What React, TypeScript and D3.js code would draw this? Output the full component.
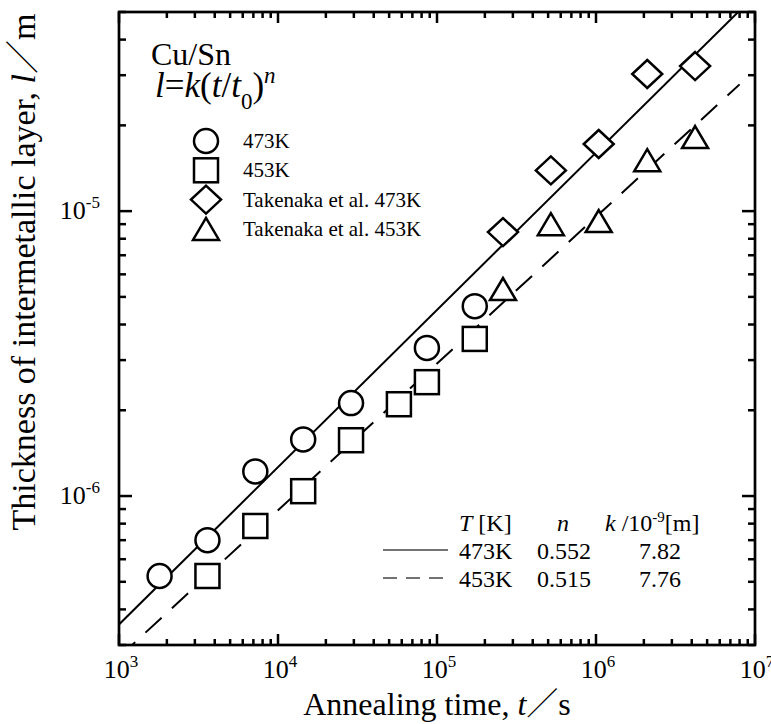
import React from 'react';
import * as d3 from 'd3';

// measured thickness (m) vs annealing time (s)
const times473 = [1800, 3600, 7200, 14400, 28800, 86400, 172800];
const thick473 = [5.24e-7, 7.0e-7, 1.22e-6, 1.58e-6, 2.12e-6, 3.31e-6, 4.64e-6];

const times453 = [3600, 7200, 14400, 28800, 57600, 86400, 172800];
const thick453 = [5.24e-7, 7.85e-7, 1.04e-6, 1.57e-6, 2.1e-6, 2.51e-6, 3.56e-6];

const takTimes = [2.6e5, 5.2e5, 1.04e6, 2.1e6, 4.2e6];
const tak473 = [8.44e-6, 1.39e-5, 1.72e-5, 3.03e-5, 3.23e-5];
const tak453 = [5.33e-6, 9.0e-6, 9.23e-6, 1.51e-5, 1.82e-5];

// fit  l = k (t/t0)^n
const fitTemps = ['473K', '453K'];
const fitN = [0.552, 0.515];
const fitK = [7.82, 7.76]; // x1e-9 m
const fitRange = [1e3, 8e6];

const legendLabels = ['473K', '453K', 'Takenaka et al. 473K', 'Takenaka et al. 453K'];

const W = 771, H = 724;
const m = { left: 119, right: 755, top: 12, bottom: 645 };
const serif = 'Liberation Serif, Times New Roman, DejaVu Serif, serif';
const cjk = 'Noto Sans CJK JP, sans-serif';

const Marker = ({ kind, x, y }) => {
    const sw = 2.5;
    if (kind === 'circle')
        return <circle cx={x} cy={y} r={12} fill="white" stroke="black" strokeWidth={sw} />;
    if (kind === 'square')
        return <rect x={x - 12} y={y - 12} width={24} height={24} fill="white" stroke="black" strokeWidth={sw} />;
    if (kind === 'diamond')
        return <path d={`M${x},${y - 14}L${x + 15},${y}L${x},${y + 14}L${x - 15},${y}Z`} fill="white" stroke="black" strokeWidth={sw} />;
    return <path d={`M${x},${y - 11}L${x + 13},${y + 11}L${x - 13},${y + 11}Z`} fill="white" stroke="black" strokeWidth={sw} />;
};

const App = () => {
    const x = d3.scaleLog().domain([1e3, 1e7]).range([m.left, m.right]);
    const y = d3.scaleLog().domain([3e-7, 5e-5]).range([m.bottom, m.top]);

    const isMajor = v => Math.abs(Math.log10(v) - Math.round(Math.log10(v))) < 1e-6;
    const line = d3.line().x(d => x(d[0])).y(d => y(d[1]));
    const fitPts = i => fitRange.map(t => [t, fitK[i] * 1e-9 * Math.pow(t, fitN[i])]);

    const series = [
        { kind: 'circle', t: times473, v: thick473 },
        { kind: 'square', t: times453, v: thick453 },
        { kind: 'diamond', t: takTimes, v: tak473 },
        { kind: 'triangle', t: takTimes, v: tak453 },
    ];

    const xt = x.ticks();
    const yt = y.ticks();

    return (
        <svg width={W} height={H} style={{ position: 'absolute', left: 0, top: 0, background: 'white', fontFamily: serif }}>
            <defs>
                <clipPath id="plot">
                    <rect x={m.left} y={m.top} width={m.right - m.left} height={m.bottom - m.top} />
                </clipPath>
            </defs>

            {/* ticks, inward on all four sides */}
            {xt.map((t, i) => {
                const len = isMajor(t) ? 11 : 6;
                return (
                    <g key={'xt' + i} stroke="black" strokeWidth={2.5}>
                        <line x1={x(t)} x2={x(t)} y1={m.bottom} y2={m.bottom - len} />
                        <line x1={x(t)} x2={x(t)} y1={m.top} y2={m.top + len} />
                    </g>
                );
            })}
            {yt.map((v, i) => {
                const len = isMajor(v) ? 13 : 7;
                return (
                    <g key={'yt' + i} stroke="black" strokeWidth={2.5}>
                        <line x1={m.left} x2={m.left + len} y1={y(v)} y2={y(v)} />
                        <line x1={m.right} x2={m.right - len} y1={y(v)} y2={y(v)} />
                    </g>
                );
            })}

            {/* tick labels */}
            {xt.filter(isMajor).map((t, i) => (
                <text key={'xl' + i} x={x(t) + 2} y={678} fontSize={26} textAnchor="middle">
                    10<tspan dy={-11} fontSize={17}>{Math.round(Math.log10(t))}</tspan>
                </text>
            ))}
            {yt.filter(isMajor).map((v, i) => (
                <text key={'yl' + i} x={100} y={y(v) + 8} fontSize={26} textAnchor="end">
                    10<tspan dy={-11} fontSize={17}>{Math.round(Math.log10(v))}</tspan>
                </text>
            ))}

            {/* fit lines */}
            <g clipPath="url(#plot)" fill="none" stroke="black" strokeWidth={2}>
                <path d={line(fitPts(0))} />
                <path d={line(fitPts(1))} strokeDasharray="22,14" />
            </g>

            {/* data */}
            {series.map((s, si) => s.t.map((t, i) => (
                <Marker key={`m${si}-${i}`} kind={s.kind} x={x(t)} y={y(s.v[i])} />
            )))}

            {/* frame */}
            <rect x={m.left} y={m.top} width={m.right - m.left} height={m.bottom - m.top}
                  fill="none" stroke="black" strokeWidth={2.7} />

            {/* axis titles */}
            <text x={(m.left + m.right) / 2} y={715} fontSize={32} textAnchor="middle">
                Annealing time, <tspan fontStyle="italic">t</tspan><tspan style={{ fontFamily: cjk }} fontWeight={300}>／</tspan>s
            </text>
            <text transform={`translate(35, 272) rotate(-90)`} fontSize={34} textAnchor="middle">
                Thickness of intermetallic layer, <tspan fontStyle="italic">l</tspan><tspan style={{ fontFamily: cjk }} fontWeight={300}>／</tspan>m
            </text>

            {/* top-left annotation */}
            <text x={151} y={65} fontSize={32}>Cu/Sn</text>
            <text x={155} y={97} fontSize={35}>
                <tspan fontStyle="italic">l</tspan>=<tspan fontStyle="italic">k</tspan>(<tspan fontStyle="italic">t</tspan>/<tspan fontStyle="italic">t</tspan><tspan dy={12} fontSize={23}>0</tspan><tspan dy={-12}>)</tspan><tspan dy={-14} fontSize={23} fontStyle="italic">n</tspan>
            </text>

            {legendLabels.map((lab, i) => {
                const cy = 141 + i * 29.3;
                return (
                    <g key={'lg' + i}>
                        <Marker kind={series[i].kind} x={206} y={cy} />
                        <text x={243} y={cy + 7} fontSize={21}>{lab}</text>
                    </g>
                );
            })}

            {/* fit table */}
            <g fontSize={24}>
                <text x={459} y={531}><tspan fontStyle="italic">T</tspan> [K]</text>
                <text x={563} y={531} textAnchor="middle" fontStyle="italic">n</text>
                <text x={605} y={531}>
                    <tspan fontStyle="italic">k</tspan> /10<tspan dy={-9} fontSize={15}>-9</tspan><tspan dy={9}>[m]</tspan>
                </text>
                {fitTemps.map((tmp, i) => {
                    const by = 559 + i * 28;
                    return (
                        <g key={'ft' + i}>
                            <line x1={383} x2={448} y1={by - 9} y2={by - 9} stroke="#444" strokeWidth={1.5}
                                  strokeDasharray={i === 1 ? '14,9' : null} />
                            <text x={459} y={by}>{tmp}</text>
                            <text x={564} y={by} textAnchor="middle">{fitN[i].toFixed(3)}</text>
                            <text x={660} y={by} textAnchor="middle">{fitK[i].toFixed(2)}</text>
                        </g>
                    );
                })}
            </g>
        </svg>
    );
};

export default App;
